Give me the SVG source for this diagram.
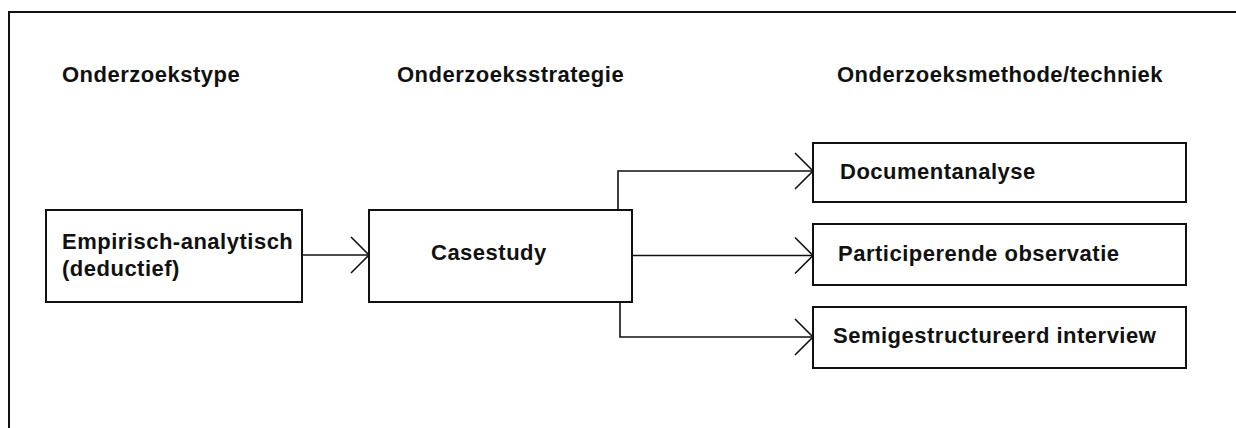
<svg xmlns="http://www.w3.org/2000/svg" width="1236" height="428" viewBox="0 0 1236 428">
  <defs>
    <style>
      .frame { fill: none; stroke: #111; stroke-width: 2; }
      .box { fill: #fff; stroke: #111; stroke-width: 2; }
      .label { font-family: "Liberation Sans", Arial, sans-serif; font-weight: bold; font-size: 22px; letter-spacing: 0.5px; fill: #111; }
      .wire { fill: none; stroke: #111; stroke-width: 1.6; }
    </style>
    <marker id="openArrow" viewBox="-20 -20 22 40" refX="0" refY="0" markerWidth="22" markerHeight="40" markerUnits="userSpaceOnUse" orient="auto" overflow="visible">
      <path d="M -18 -18 L 0 0 L -18 18" fill="none" stroke="#111" stroke-width="1.6"/>
    </marker>
  </defs>

  <rect width="1236" height="428" fill="#fff"/>

  <!-- outer frame: top and left edges -->
  <path class="frame" d="M 9 440 L 9 12 L 1240 12"/>

  <!-- column headings -->
  <g id="headings">
    <text class="label" x="62" y="82">Onderzoekstype</text>
    <text class="label" x="397" y="82">Onderzoeksstrategie</text>
    <text class="label" x="837" y="82">Onderzoeksmethode/techniek</text>
  </g>

  <!-- connectors -->
  <g id="connectors">
    <path class="wire" d="M 302 255 L 369 255" marker-end="url(#openArrow)"/>
    <path class="wire" d="M 618 210 L 618 171 L 813 171" marker-end="url(#openArrow)"/>
    <path class="wire" d="M 632 255.5 L 813 255.5" marker-end="url(#openArrow)"/>
    <path class="wire" d="M 620 302 L 620 337 L 813 337" marker-end="url(#openArrow)"/>
  </g>

  <g id="node-empirisch">
    <rect class="box" x="46" y="210" width="256" height="92"/>
    <text class="label" x="62" y="249">Empirisch-analytisch</text>
    <text class="label" x="62" y="276">(deductief)</text>
  </g>

  <g id="node-casestudy">
    <rect class="box" x="369" y="210" width="263" height="92"/>
    <text class="label" x="431" y="260">Casestudy</text>
  </g>

  <g id="node-documentanalyse">
    <rect class="box" x="813" y="143" width="373" height="59"/>
    <text class="label" x="840" y="179">Documentanalyse</text>
  </g>

  <g id="node-participerende">
    <rect class="box" x="813" y="224" width="373" height="61"/>
    <text class="label" x="838" y="261">Participerende observatie</text>
  </g>

  <g id="node-interview">
    <rect class="box" x="813" y="307" width="373" height="61"/>
    <text class="label" x="833" y="343">Semigestructureerd interview</text>
  </g>
</svg>
